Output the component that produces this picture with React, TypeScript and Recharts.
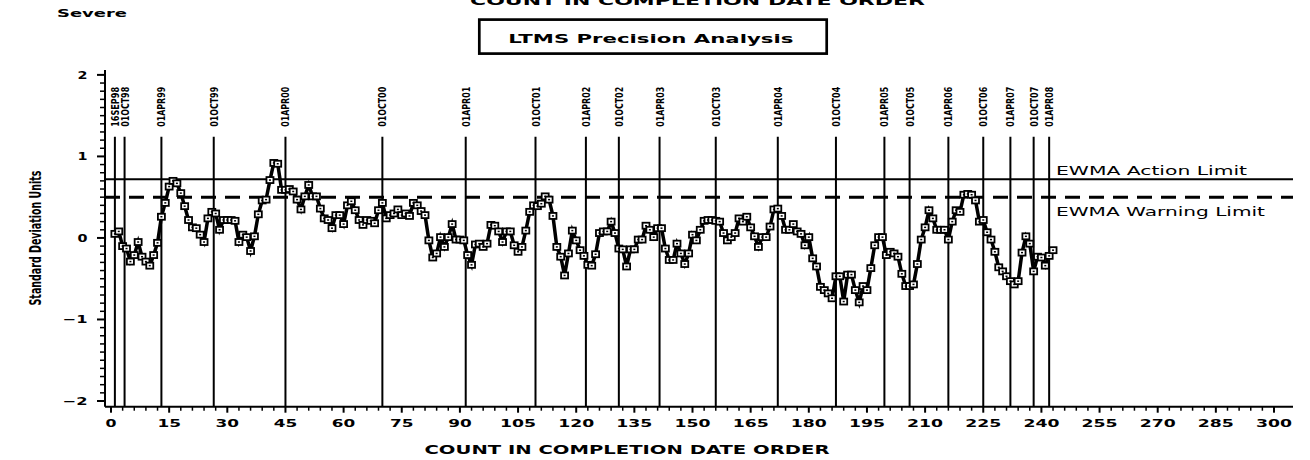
import { Line, LineChart, ReferenceLine, XAxis, YAxis } from "recharts";

// EWMA of the standardized severe results, one value per test in completion order
const ewmaValues = [
  0.05, 0.08, -0.1, -0.13, -0.29, -0.21, -0.05, -0.23, -0.29, -0.34,
  -0.21, -0.06, 0.26, 0.43, 0.63, 0.7, 0.67, 0.55, 0.39, 0.22,
  0.13, 0.12, 0.04, -0.05, 0.24, 0.32, 0.3, 0.1, 0.22, 0.22,
  0.22, 0.21, -0.05, 0.04, 0.01, -0.16, 0.02, 0.29, 0.46, 0.47,
  0.71, 0.92, 0.91, 0.59, 0.59, 0.6, 0.57, 0.47, 0.35, 0.51,
  0.65, 0.51, 0.51, 0.36, 0.24, 0.22, 0.12, 0.28, 0.28, 0.17,
  0.4, 0.45, 0.34, 0.22, 0.16, 0.22, 0.21, 0.18, 0.34, 0.43,
  0.24, 0.28, 0.3, 0.35, 0.28, 0.3, 0.27, 0.43, 0.4, 0.33,
  0.28, -0.03, -0.24, -0.19, 0.01, -0.11, 0.01, 0.17, -0.02, -0.02,
  -0.03, -0.21, -0.33, -0.08, -0.07, -0.11, -0.07, 0.16, 0.15, 0.08,
  -0.05, 0.08, 0.08, -0.09, -0.17, -0.11, 0.09, 0.32, 0.4, 0.39,
  0.42, 0.51, 0.47, 0.27, -0.11, -0.23, -0.46, -0.19, 0.09, -0.03,
  -0.15, -0.22, -0.33, -0.34, -0.2, 0.06, 0.08, 0.08, 0.2, 0.06,
  -0.13, -0.14, -0.35, -0.14, -0.14, -0.02, -0.02, 0.15, 0.1, 0.01,
  0.12, 0.12, -0.13, -0.27, -0.27, -0.07, -0.19, -0.32, -0.19, 0.04,
  -0.03, 0.1, 0.21, 0.22, 0.22, 0.21, 0.2, 0.06, -0.03, 0.01,
  0.06, 0.24, 0.2, 0.26, 0.13, 0.02, -0.11, 0.01, 0.01, 0.14,
  0.35, 0.36, 0.27, 0.1, 0.1, 0.17, 0.08, 0.05, -0.09, 0.01,
  -0.25, -0.35, -0.6, -0.64, -0.68, -0.74, -0.47, -0.47, -0.78, -0.45,
  -0.45, -0.64, -0.79, -0.59, -0.64, -0.37, -0.09, 0.01, 0.01, -0.21,
  -0.17, -0.19, -0.23, -0.44, -0.59, -0.59, -0.57, -0.32, -0.02, 0.13,
  0.34, 0.24, 0.1, 0.1, 0.1, -0.02, 0.2, 0.34, 0.32, 0.53,
  0.54, 0.53, 0.46, 0.2, 0.22, 0.07, -0.02, -0.17, -0.36, -0.41,
  -0.47, -0.53, -0.57, -0.53, -0.18, 0.02, -0.07, -0.41, -0.23, -0.24,
  -0.34, -0.22, -0.15,
];

const actionLimit = 0.72;
const warningLimit = 0.5;

// calendar markers: label and the count where the date falls
const markerLabels = [
  "16SEP98", "01OCT98", "01APR99", "01OCT99", "01APR00", "01OCT00", "01APR01",
  "01OCT01", "01APR02", "01OCT02", "01APR03", "01OCT03", "01APR04", "01OCT04",
  "01APR05", "01OCT05", "01APR06", "01OCT06", "01APR07", "01OCT07", "01APR08",
];
const markerCounts = [
  1, 3.5, 13, 26.5, 45, 70, 91.5, 109.5, 122.5, 131, 141.5, 156, 172, 187,
  199.5, 206, 216, 225, 232, 238, 242,
];

const X_DOMAIN: [number, number] = [-1.55, 304.9];
const Y_DOMAIN: [number, number] = [-2.07, 2.06];
const MARKER_TOP = 1.24;

const CHART_W = 1310;
const CHART_H = 460;
const MARGIN = { top: 70, right: 17, bottom: 0, left: 0 };
const Y_AXIS_W = 105;
const X_AXIS_H = 53.3;
const PLOT_LEFT = MARGIN.left + Y_AXIS_W;
const PLOT_BOTTOM = CHART_H - MARGIN.bottom - X_AXIS_H;

const WIDE = "'DejaVu Sans', Verdana, sans-serif";
const NARROW = "'Liberation Sans Narrow', 'DejaVu Sans Condensed', 'Liberation Sans', sans-serif";

const chartData = ewmaValues.map((v, i) => ({ count: i + 1, ewma: v }));
// minor ticks every 3 counts, labelled every 15
const xTicks = Array.from({ length: 101 }, (_, i) => i * 3);
// minor ticks every 0.1, labelled on whole units
const yTicks = Array.from({ length: 41 }, (_, i) => (i - 20) / 10);

function XTick({ x, payload }: any) {
  const v = payload.value as number;
  const major = v % 15 === 0;
  const s = String(v);
  return (
    <g>
      <line x1={x} x2={x} y1={PLOT_BOTTOM} y2={PLOT_BOTTOM + (major ? 6 : 4)} stroke="#000" strokeWidth={major ? 2 : 1.5} />
      {major && (
        <text
          x={x}
          y={PLOT_BOTTOM + 20.3}
          textAnchor="middle"
          fontFamily={WIDE}
          fontWeight="bold"
          fontSize={10.5}
          textLength={12.5 * s.length - 1.5}
          lengthAdjust="spacingAndGlyphs"
          fill="#000"
        >
          {s}
        </text>
      )}
    </g>
  );
}

function YTick({ y, payload }: any) {
  const v = payload.value as number;
  const major = Math.abs(v - Math.round(v)) < 1e-6;
  const s = v < 0 ? "\u2212" + Math.abs(Math.round(v)) : String(Math.round(v));
  return (
    <g>
      <line x1={PLOT_LEFT - (major ? 8 : 5)} x2={PLOT_LEFT} y1={y} y2={y} stroke="#000" strokeWidth={major ? 2 : 1.5} />
      {major && (
        <text
          x={87.5}
          y={y + 4}
          textAnchor="end"
          fontFamily={WIDE}
          fontWeight="bold"
          fontSize={11}
          textLength={v < 0 ? 25 : 10}
          lengthAdjust="spacingAndGlyphs"
          fill="#000"
        >
          {s}
        </text>
      )}
    </g>
  );
}

function SquareDot({ cx, cy }: any) {
  if (cx == null || cy == null) return null;
  return (
    <g>
      <rect x={cx - 3.5} y={cy - 3} width={7} height={6} fill="#fff" stroke="#000" strokeWidth={1.8} />
      <rect x={cx - 1} y={cy - 0.75} width={2} height={1.5} fill="#000" />
    </g>
  );
}

function DateMarker(props: any) {
  const { x1, y1, x2, y2, label } = props;
  return (
    <g>
      <line x1={x1} y1={y1} x2={x2} y2={y2} stroke="#000" strokeWidth={2} />
      <text
        transform={`translate(${x1 + 4},${y1 - 10}) rotate(-90)`}
        fontFamily={NARROW}
        fontWeight="bold"
        fontSize={11}
        textLength={40}
        lengthAdjust="spacingAndGlyphs"
        fill="#000"
      >
        {label}
      </text>
    </g>
  );
}

function Annotations() {
  return (
    <svg
      width={CHART_W}
      height={CHART_H}
      style={{ position: "absolute", left: 0, top: 0, pointerEvents: "none" }}
    >
      <text x={57} y={16.7} fontFamily={WIDE} fontWeight="bold" fontSize={11} textLength={70} lengthAdjust="spacingAndGlyphs">
        Severe
      </text>
      <text x={697.5} y={5} textAnchor="middle" fontFamily={WIDE} fontWeight="bold" fontSize={13} textLength={455} lengthAdjust="spacingAndGlyphs">
        COUNT IN COMPLETION DATE ORDER
      </text>
      <rect x={479.3} y={19.6} width={347.4} height={34} fill="none" stroke="#000" strokeWidth={2.7} />
      <text x={650.8} y={42.7} textAnchor="middle" fontFamily={WIDE} fontWeight="bold" fontSize={12.7} textLength={285} lengthAdjust="spacingAndGlyphs">
        LTMS Precision Analysis
      </text>
      <text x={1056} y={175} fontFamily={WIDE} fontSize={12} textLength={191} lengthAdjust="spacingAndGlyphs">
        EWMA Action Limit
      </text>
      <text x={1056} y={215.5} fontFamily={WIDE} fontSize={12} textLength={209} lengthAdjust="spacingAndGlyphs">
        EWMA Warning Limit
      </text>
      <text
        transform="translate(41,238) rotate(-90)"
        textAnchor="middle"
        fontFamily={NARROW}
        fontWeight="bold"
        fontSize={15}
        textLength={135}
        lengthAdjust="spacingAndGlyphs"
      >
        Standard Deviation Units
      </text>
      <text x={627} y={454} textAnchor="middle" fontFamily={WIDE} fontWeight="bold" fontSize={12} textLength={405} lengthAdjust="spacingAndGlyphs">
        COUNT IN COMPLETION DATE ORDER
      </text>
    </svg>
  );
}

export default function App() {
  return (
    <div style={{ position: "absolute", left: 0, top: 0, width: CHART_W, height: CHART_H, background: "#fff" }}>
      <LineChart width={CHART_W} height={CHART_H} data={chartData} margin={MARGIN}>
        <XAxis
          dataKey="count"
          type="number"
          domain={X_DOMAIN}
          allowDataOverflow
          ticks={xTicks}
          interval={0}
          tick={(p: any) => <XTick {...p} />}
          tickLine={false}
          axisLine={{ stroke: "#000", strokeWidth: 2 }}
          height={X_AXIS_H}
        />
        <YAxis
          type="number"
          domain={Y_DOMAIN}
          allowDataOverflow
          ticks={yTicks}
          interval={0}
          tick={(p: any) => <YTick {...p} />}
          tickLine={false}
          axisLine={{ stroke: "#000", strokeWidth: 2 }}
          width={Y_AXIS_W}
        />
        {markerCounts.map((c, i) => (
          <ReferenceLine
            key={markerLabels[i]}
            segment={[{ x: c, y: MARKER_TOP }, { x: c, y: Y_DOMAIN[0] }]}
            ifOverflow="visible"
            shape={(p: any) => <DateMarker {...p} label={markerLabels[i]} />}
          />
        ))}
        <ReferenceLine y={actionLimit} stroke="#000" strokeWidth={2} ifOverflow="visible" />
        <ReferenceLine y={warningLimit} stroke="#000" strokeWidth={3} strokeDasharray="15 9" ifOverflow="visible" />
        <Line
          dataKey="ewma"
          type="linear"
          stroke="#000"
          strokeWidth={3.5}
          dot={(p: any) => <SquareDot key={`pt-${p.index}`} {...p} />}
          activeDot={false}
          isAnimationActive={false}
        />
      </LineChart>
      <Annotations />
    </div>
  );
}
